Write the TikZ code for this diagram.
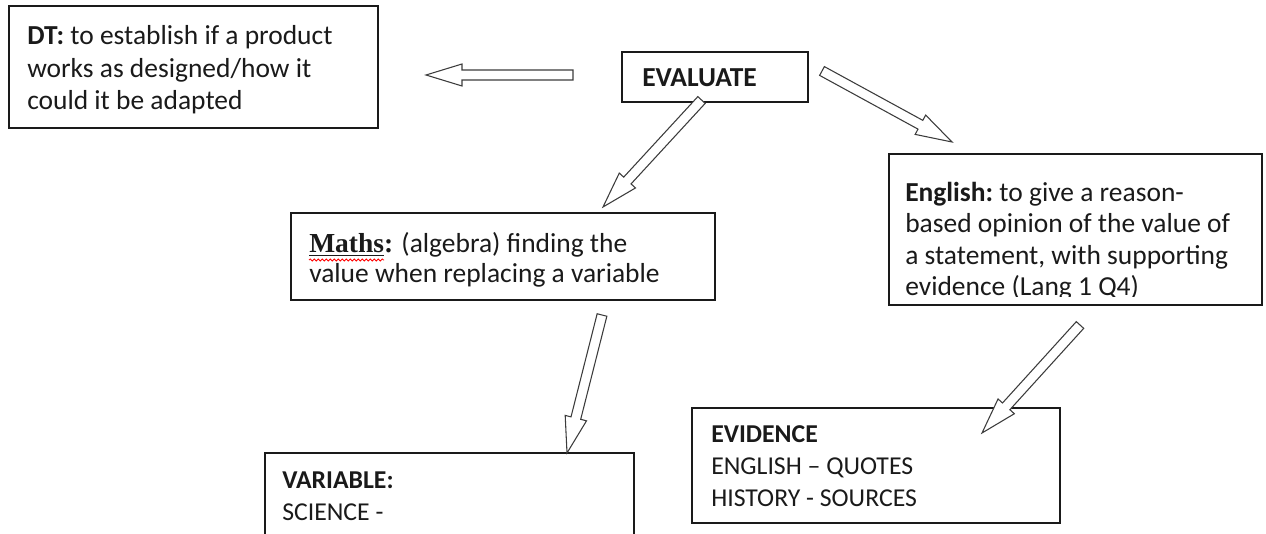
\documentclass[tikz,border=0pt]{standalone}
\usepackage{fontspec}
\setmainfont{Carlito}
\newfontfamily\timesf{Liberation Serif}
\usetikzlibrary{calc,fit,decorations.pathmorphing}
\definecolor{ink}{HTML}{1A1A1A}
\tikzset{
  box/.style={draw=ink, line width=1pt, inner sep=0pt, rectangle},
  txt/.style={anchor=base west, inner sep=0pt, text=ink, font=\fontsize{20.6pt}{24pt}\selectfont},
  captxt/.style={txt, font=\fontsize{19.3pt}{24pt}\selectfont},
  barrow/.style={draw=ink!85, line width=0.8pt, fill=white, line join=miter},
  squiggle/.style={draw=red, line width=0.6pt, decorate, decoration={snake, amplitude=0.8pt, segment length=3pt}}
}
\newcommand{\blockarr}[2]{%
  \path ($(#2)!27pt!(#1)$) coordinate (hb);
  \draw[barrow] ($(#1)!3.75pt!90:(#2)$) -- ($(hb)!3.75pt!90:(#2)$) -- ($(hb)!8.25pt!90:(#2)$) -- (#2)
     -- ($(hb)!8.25pt!-90:(#2)$) -- ($(hb)!3.75pt!-90:(#2)$) -- ($(#1)!3.75pt!-90:(#2)$) -- cycle;
}
\begin{document}
\begin{tikzpicture}[x=0.75pt, y=-0.75pt]
\useasboundingbox (0,0) rectangle (1266,534);
\clip (0,0) rectangle (1266,534);

% boxes
\node[box, fit={(9,6) (378,128)}] (dt) {};
\node[box, fit={(622,52) (808,102)}] (eval) {};
\node[box, fit={(291,213) (715,300)}] (maths) {};
\node[box, fit={(889,154) (1262,305)}] (eng) {};
\node[box, fit={(692,408) (1060,523)}] (evid) {};
\node[box, fit={(265,453) (634,560)}] (var) {};

% texts
\node[txt] (dt1) at (27,45) {\textbf{DT:} to establish if a product};
\node[txt] (dt2) at (27,77.5) {works as designed/how it};
\node[txt] (dt3) at (27,110) {could it be adapted};

\node[txt] (ev1) at (642,87) {\textbf{EVALUATE}};

\node[txt] (m1) at (309,253) {{\timesf\bfseries\underline{Maths}:} (algebra) finding the};
\node[txt] (m2) at (309,283) {value when replacing a variable};
\draw[squiggle] (309,260) -- (384,260);

\node[txt] (e1) at (905,202) {\textbf{English:}\hspace{-1.5pt} to give a reason-};
\node[txt] (e2) at (905,233) {based opinion of the value of};
\node[txt] (e3) at (905,265) {a statement, with supporting};
\begin{scope}
  \clip (889,154) rectangle (1262,297);
  \node[txt] (e4) at (905,296) {evidence (Lang 1 Q4)};
\end{scope}

\node[captxt] (v1) at (711,442) {\textbf{EVIDENCE}};
\node[captxt] (v2) at (711,474) {ENGLISH -- QUOTES};
\node[captxt] (v3) at (711,506) {HISTORY - SOURCES};

\node[captxt] (s1) at (282,488) {\textbf{VARIABLE:}};
\node[captxt] (s2) at (282,520) {SCIENCE -};

% arrow end points
\coordinate (a1t) at (573,75);   \coordinate (a1h) at (426,75);
\coordinate (a2t) at (701.5,100); \coordinate (a2h) at (603,207);
\coordinate (a3t) at (822,71);   \coordinate (a3h) at (952,142);
\coordinate (a4t) at (602,315);  \coordinate (a4h) at (567,453);
\coordinate (a5t) at (1080,325); \coordinate (a5h) at (982,433);

\blockarr{a1t}{a1h}
\blockarr{a2t}{a2h}
\blockarr{a3t}{a3h}
\blockarr{a4t}{a4h}
\blockarr{a5t}{a5h}
\end{tikzpicture}
\end{document}
